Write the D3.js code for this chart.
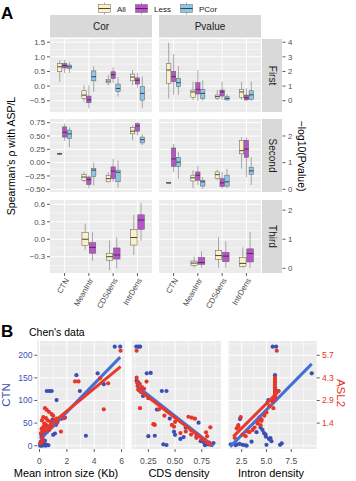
<!DOCTYPE html>
<html><head><meta charset="utf-8">
<script src="https://cdn.jsdelivr.net/npm/d3@7"></script>
<style>body{margin:0;background:#fff}svg{display:block;font-family:"Liberation Sans",Arial,sans-serif}</style>
</head><body><svg id="c" width="356" height="481"></svg>
<script>
// ================= DATA: panel A =================
const categories = ["CTN","MeanIntr","CDSdens","IntrDens"];
const groups = ["All","Less","PCor"];
const rowNames = ["First","Second","Third"];
const colNames = ["Cor","Pvalue"];
// [category, group, lowerWhisker, q1, median, q3, upperWhisker]
const corFirst = [
 ["CTN","All",0.15,0.49,0.66,0.77,0.89],["CTN","Less",0.45,0.62,0.70,0.77,0.90],["CTN","PCor",0.45,0.60,0.66,0.72,0.82],
 ["MeanIntr","All",-0.53,-0.42,-0.31,-0.16,0.03],["MeanIntr","Less",-0.76,-0.57,-0.47,-0.34,0.02],["MeanIntr","PCor",-0.19,0.18,0.32,0.52,0.68],
 ["CDSdens","All",0.03,0.11,0.17,0.23,0.38],["CDSdens","Less",0.11,0.26,0.39,0.49,0.64],["CDSdens","PCor",-0.36,-0.19,-0.08,0.07,0.30],
 ["IntrDens","All",0.03,0.18,0.31,0.41,0.55],["IntrDens","Less",-0.05,0.07,0.20,0.28,0.45],["IntrDens","PCor",-0.76,-0.48,-0.25,-0.02,0.32]
];
const pvalFirst = [
 ["CTN","All",0.16,1.19,2.10,2.55,3.96],["CTN","Less",0.40,1.30,1.65,2.00,3.20],["CTN","PCor",0.40,0.96,1.23,1.53,2.37],
 ["MeanIntr","All",0.05,0.23,0.60,0.73,1.30],["MeanIntr","Less",0.00,0.46,0.78,1.23,2.10],["MeanIntr","PCor",0.00,0.16,0.50,0.78,1.40],
 ["CDSdens","All",0.05,0.16,0.28,0.39,0.73],["CDSdens","Less",0.05,0.32,0.60,0.73,1.30],["CDSdens","PCor",0.00,0.05,0.16,0.27,0.46],
 ["IntrDens","All",0.05,0.23,0.60,0.78,1.30],["IntrDens","Less",0.00,0.05,0.20,0.39,0.85],["IntrDens","PCor",0.00,0.10,0.40,0.68,1.30]
];
const corSecond = [
 ["CTN","All",0.14,0.16,0.165,0.17,0.19],["CTN","Less",0.41,0.48,0.57,0.67,0.73],["CTN","PCor",0.29,0.45,0.54,0.61,0.66],
 ["MeanIntr","All",-0.37,-0.33,-0.27,-0.22,-0.18],["MeanIntr","Less",-0.48,-0.41,-0.32,-0.27,-0.24],["MeanIntr","PCor",-0.43,-0.26,-0.14,-0.11,0.0],
 ["CDSdens","All",-0.37,-0.36,-0.30,-0.24,-0.18],["CDSdens","Less",-0.36,-0.30,-0.16,-0.08,0.07],["CDSdens","PCor",-0.47,-0.36,-0.18,-0.14,0.04],
 ["IntrDens","All",0.42,0.54,0.59,0.66,0.70],["IntrDens","Less",0.51,0.59,0.69,0.73,0.76],["IntrDens","PCor",0.33,0.37,0.43,0.48,0.53]
];
const pvalSecond = [
 ["CTN","All",0.22,0.23,0.24,0.25,0.26],["CTN","Less",0.65,0.86,1.14,1.55,1.70],["CTN","PCor",0.40,0.86,1.02,1.20,1.39],
 ["MeanIntr","All",0.04,0.31,0.43,0.53,0.71],["MeanIntr","Less",0.16,0.34,0.53,0.65,0.89],["MeanIntr","PCor",0.02,0.12,0.28,0.34,0.46],
 ["CDSdens","All",0.34,0.40,0.55,0.65,0.74],["CDSdens","Less",0.02,0.10,0.24,0.40,0.65],["CDSdens","PCor",0.04,0.12,0.28,0.53,0.77],
 ["IntrDens","All",0.77,1.33,1.45,1.84,1.96],["IntrDens","Less",0.46,1.20,1.51,1.84,1.94],["IntrDens","PCor",0.16,0.56,0.69,0.83,1.20]
];
const corThird = [
 ["MeanIntr","All",-0.18,-0.11,0.0,0.12,0.27],["MeanIntr","Less",-0.37,-0.24,-0.14,-0.06,0.12],
 ["CDSdens","All",-0.53,-0.36,-0.30,-0.24,-0.02],["CDSdens","Less",-0.50,-0.34,-0.27,-0.15,0.03],
 ["IntrDens","All",-0.27,-0.10,0.03,0.17,0.42],["IntrDens","Less",-0.02,0.17,0.33,0.42,0.62]
];
const pvalThird = [
 ["MeanIntr","All",0.03,0.09,0.18,0.25,0.40],["MeanIntr","Less",0.03,0.14,0.20,0.37,0.59],
 ["CDSdens","All",0.03,0.31,0.44,0.61,1.07],["CDSdens","Less",0.03,0.23,0.42,0.55,0.92],
 ["IntrDens","All",0.03,0.07,0.17,0.37,0.72],["IntrDens","Less",0.02,0.22,0.51,0.67,1.25]
];
const corTickFirst = [-0.5,0,0.5,1,1.5];
const corTickSecond = [-0.5,-0.25,0,0.25,0.5,0.75];
const corTickThird = [-0.3,0,0.3,0.6];
const pTickFirst = [0,1,2,3,4];
const pTickSecond = [0,1,2];
const pTickThird = [0,1,2];

// ================= DATA: panel B =================
// [x, CTN] blue ; [x, ASL2] red
const sizeCTN = [[5.5,219],[5.9,219],[2.7,156],[2.95,121],[4.25,160],[4.7,136],[0.53,121],[0.72,121],[0.89,121],[1.25,101],[1.74,61],[1.62,60],[1.86,62],[3.39,22],[1.0,24],[1.13,27],[0.08,2],[0.18,0],[0.28,1],[0.35,4],[0.45,0],[0.55,2],[0.65,1],[0.15,21],[0.22,16],[0.1,9],[0.4,11],[0.55,31],[0.75,40],[0.85,52],[1.2,46],[0.3,26],[0.95,57],[1.45,59],[0.25,6],[0.05,0]];
const sizeASL2 = [[5.93,6.0],[2.6,4.06],[2.85,4.06],[4.42,4.26],[5.02,3.94],[4.7,2.3],[0.4,2.37],[0.28,1.8],[0.47,1.74],[0.89,2.0],[1.57,0.89],[0.53,2.26],[0.69,2.14],[1.0,1.89],[1.25,1.71],[0.1,0.77],[0.15,1.06],[0.3,1.2],[0.2,0.5],[0.35,1.4],[0.5,1.3],[0.6,1.6],[0.8,1.5],[1.1,1.6],[0.25,0.3],[0.12,0.2],[0.4,0.9],[0.7,1.0],[1.3,1.45],[0.9,1.2],[1.8,1.75],[0.05,0.15],[0.18,1.6]];
const cdsCTN = [[0.137,219],[0.157,219],[0.173,219],[0.235,160],[0.272,161],[0.14,144],[0.155,140],[0.376,121],[0.42,121],[0.72,51],[0.25,21],[0.31,22],[0.39,3],[0.42,1.5],[0.49,31],[0.5,24],[0.55,15],[0.58,19],[0.74,10],[0.77,7],[0.81,3],[0.86,6],[0.6,40],[0.65,35],[0.7,20],[0.45,60],[0.33,80],[0.2,110],[0.84,2],[0.78,1]];
const cdsASL2 = [[0.14,6.0],[0.145,4.0],[0.17,3.9],[0.19,3.7],[0.233,4.05],[0.14,4.3],[0.15,3.8],[0.16,3.5],[0.18,3.4],[0.21,3.6],[0.172,2.37],[0.297,1.35],[0.31,1.31],[0.47,1.31],[0.49,1.2],[0.625,1.83],[0.656,1.77],[0.686,1.71],[0.83,1.16],[0.3,1.37],[0.78,0.35],[0.8,0.6],[0.79,0.85],[0.75,0.4],[0.7,0.5],[0.6,0.9],[0.55,0.8],[0.4,1.9],[0.35,2.3],[0.25,3.0],[0.5,1.5],[0.65,0.7],[0.82,0.2]];
const densCTN = [[5.63,219],[5.98,219],[5.86,156],[5.86,121],[6.2,121],[5.95,121],[6.05,121],[9.57,160],[5.19,101],[5.53,101],[2.33,59],[4.28,62],[1.4,3],[1.9,1],[2.3,4],[2.6,2],[2.85,1],[3.5,9],[4.4,40],[4.6,35],[4.75,28],[4.9,25],[4.95,20],[5.25,15],[5.4,17],[5.5,10],[5.0,2],[6.37,2],[6.54,5],[3.0,0],[4.0,30],[5.1,95],[2.0,3]];
const densASL2 = [[6.04,6.0],[5.86,4.3],[5.86,4.15],[5.86,4.0],[5.86,3.85],[5.86,3.7],[5.86,3.55],[5.86,3.4],[5.86,3.25],[5.86,3.1],[5.86,3.0],[5.7,2.37],[2.4,1.8],[2.16,1.3],[2.0,1.1],[2.16,1.2],[3.3,0.86],[3.6,1.0],[3.8,1.15],[4.1,1.4],[4.5,1.66],[4.5,1.57],[4.4,1.3],[4.2,1.6],[5.0,2.1],[5.3,2.5],[5.6,2.8],[1.8,0.5],[2.6,0.7],[2.9,0.6],[4.8,1.9],[3.1,0.9],[5.75,2.9]];
// fitted lines: [x0, y0, x1, y1]
const sizeFitCTN = [0.05,14,5.9,196], sizeFitASL2 = [0.05,0.8,5.93,5.0];
const cdsFitCTN = [0.137,133,0.86,-1], cdsFitASL2 = [0.14,3.63,0.84,0.0];
const densFitCTN = [1.35,-2,9.57,181], densFitASL2 = [1.65,0.57,6.37,3.52];
const ctnTicks = [0,50,100,150,200];
const asl2Ticks = [50,100,150,200]; // positions in CTN units, labelled as ASL2
const ASL2_FACTOR = 35;

// ================= DRAW =================
const svg = d3.select("#c");
const fillCol = {All:"#FCF0C6", Less:"#B953C9", PCor:"#8EC6EA"};
const tickCol = "#4d4d4d", grid = "#ffffff", bg = "#EBEBEB", strip = "#D9D9D9";

// Panel labels
svg.append("text").attr("x",1).attr("y",18.5).attr("font-size",17).attr("font-weight","bold").text("A");
svg.append("text").attr("x",1).attr("y",337).attr("font-size",17).attr("font-weight","bold").text("B");

// Legend
[["All",98],["Less",135],["PCor",180]].forEach(([g,x])=>{
  const lg = svg.append("g");
  lg.append("line").attr("x1",x+6.5).attr("x2",x+6.5).attr("y1",2.5).attr("y2",14.5).attr("stroke","#777").attr("stroke-width",0.6);
  lg.append("rect").attr("x",x+0.5).attr("y",4.5).attr("width",12).attr("height",8).attr("fill",fillCol[g]).attr("stroke","#666").attr("stroke-width",0.5);
  lg.append("line").attr("x1",x+0.5).attr("x2",x+12.5).attr("y1",8.5).attr("y2",8.5).attr("stroke","#333").attr("stroke-width",0.9);
  lg.append("text").attr("x",x+19).attr("y",11.5).attr("font-size",8).attr("fill","#1a1a1a").text(g);
});

const colRange = {Cor:[50,152], Pvalue:[159,261]};
const rowRange = {First:[39,112], Second:[119,192], Third:[200,273]};
const rowLimits = {First:[-0.886,1.61], Second:[-0.551,0.819], Third:[-0.58,0.674]};
const rowData = {First:{Cor:corFirst,Pvalue:pvalFirst}, Second:{Cor:corSecond,Pvalue:pvalSecond}, Third:{Cor:corThird,Pvalue:pvalThird}};
const leftTicks = {First:corTickFirst, Second:corTickSecond, Third:corTickThird};
const leftFmt = {First:d3.format(".1f"), Second:d3.format(".2f"), Third:d3.format(".1f")};
const rightTicks = {First:pTickFirst, Second:pTickSecond, Third:pTickThird};
const toPrimary = p => (p-1)/2;
const minus = s => s.replace("-","\u2212");

function minors(ticks, dom){
  const out=[]; const st = ticks[1]-ticks[0];
  for(let i=-1;i<ticks.length;i++){ const m = ticks[0]+st*(i+0.5); if(m>dom[0]&&m<dom[1]) out.push(m);} return out;
}

// top strips
colNames.forEach(c=>{
  const [x0,x1]=colRange[c];
  svg.append("rect").attr("x",x0).attr("y",15).attr("width",x1-x0).attr("height",22.5).attr("fill",strip);
  svg.append("text").attr("x",(x0+x1)/2).attr("y",30).attr("text-anchor","middle").attr("font-size",10).attr("fill","#1a1a1a").text(c);
});

rowNames.forEach(r=>{
  const [y0,y1]=rowRange[r];
  const y = d3.scaleLinear().domain(rowLimits[r]).range([y1,y0]);
  const present = groups.filter(g=>rowData[r].Cor.some(d=>d[1]===g));
  colNames.forEach(c=>{
    const [x0,x1]=colRange[c];
    const x = d3.scalePoint().domain(categories).range([x0,x1]).padding(0.6);
    const g = svg.append("g");
    g.append("rect").attr("x",x0).attr("y",y0).attr("width",x1-x0).attr("height",y1-y0).attr("fill",bg);
    minors(leftTicks[r], rowLimits[r]).forEach(v=>g.append("line").attr("x1",x0).attr("x2",x1).attr("y1",y(v)).attr("y2",y(v)).attr("stroke",grid).attr("stroke-width",0.5));
    leftTicks[r].forEach(v=>g.append("line").attr("x1",x0).attr("x2",x1).attr("y1",y(v)).attr("y2",y(v)).attr("stroke",grid).attr("stroke-width",1));
    categories.forEach(k=>g.append("line").attr("x1",x(k)).attr("x2",x(k)).attr("y1",y0).attr("y2",y1).attr("stroke",grid).attr("stroke-width",1));
    const t = c==="Pvalue" ? toPrimary : (v=>v);
    const slot = 0.6*x.step()/present.length;
    rowData[r][c].forEach(d=>{
      const [cat,grp,lo,q1,med,q3,hi] = d;
      const i = present.indexOf(grp);
      const cx = x(cat) + (i-(present.length-1)/2)*slot;
      const bw = slot*0.9;
      g.append("line").attr("x1",cx).attr("x2",cx).attr("y1",y(t(hi))).attr("y2",y(t(lo))).attr("stroke","#777").attr("stroke-width",0.6);
      g.append("rect").attr("x",cx-bw/2).attr("y",y(t(q3))).attr("width",bw).attr("height",Math.max(0.6,y(t(q1))-y(t(q3))))
        .attr("fill",fillCol[grp]).attr("stroke","#5a5a5a").attr("stroke-width",0.5);
      g.append("line").attr("x1",cx-bw/2).attr("x2",cx+bw/2).attr("y1",y(t(med))).attr("y2",y(t(med))).attr("stroke","#333").attr("stroke-width",0.9);
    });
    if(r==="Third"){
      categories.forEach(k=>{
        svg.append("line").attr("x1",x(k)).attr("x2",x(k)).attr("y1",y1).attr("y2",y1+3).attr("stroke","#333").attr("stroke-width",0.8);
        svg.append("text").attr("transform",`translate(${x(k)+1},${y1+5}) rotate(-60)`).attr("text-anchor","end").attr("dy","0.55em")
          .attr("font-size",7.8).attr("fill",tickCol).text(k);
      });
    }
  });
  // left axis
  leftTicks[r].forEach(v=>{
    svg.append("line").attr("x1",47).attr("x2",50).attr("y1",y(v)).attr("y2",y(v)).attr("stroke","#333").attr("stroke-width",0.8);
    svg.append("text").attr("x",45).attr("y",y(v)).attr("dy","0.35em").attr("text-anchor","end").attr("font-size",7.8).attr("fill",tickCol).text(minus(leftFmt[r](v)));
  });
  // right strip
  svg.append("rect").attr("x",262).attr("y",y0).attr("width",20).attr("height",y1-y0).attr("fill",strip);
  svg.append("text").attr("transform",`translate(272,${(y0+y1)/2}) rotate(90)`).attr("text-anchor","middle").attr("dy","0.35em")
    .attr("font-size",10).attr("fill","#1a1a1a").text(r);
  // right axis
  rightTicks[r].forEach(p=>{
    const yy = y(toPrimary(p));
    svg.append("line").attr("x1",282.5).attr("x2",285.5).attr("y1",yy).attr("y2",yy).attr("stroke","#333").attr("stroke-width",0.8);
    svg.append("text").attr("x",288).attr("y",yy).attr("dy","0.35em").attr("font-size",7.8).attr("fill",tickCol).text(p);
  });
});
svg.append("text").attr("transform","translate(15,156) rotate(-90)").attr("text-anchor","middle").attr("font-size",10.5).attr("fill","#000").text("Spearman's \u03C1 with ASP/L");
svg.append("text").attr("transform","translate(298,156) rotate(90)").attr("text-anchor","middle").attr("font-size",10.5).attr("fill","#000").text("\u2212log10(Pvalue)");

// ================= panel B =================
svg.append("text").attr("x",29).attr("y",336).attr("font-size",10.5).attr("fill","#000").text("Chen's data");
const blue = "#3A50B5", red = "#E6352A", blueLine = "#4470D6", redLine = "#E8392D";
const By = d3.scaleLinear().domain([-7.3,231.6]).range([449,341]);
const panelsB = [
  {x:[37.3,125], dom:[-0.16,6.25], ticks:[0,2,4,6], fmt:d3.format("d"), ctn:sizeCTN, asl:sizeASL2, fc:sizeFitCTN, fa:sizeFitASL2, title:"Mean intron size (Kb)", tx:66},
  {x:[131.7,221], dom:[0.094,0.93], ticks:[0.25,0.5,0.75], fmt:d3.format(".2f"), ctn:cdsCTN, asl:cdsASL2, fc:cdsFitCTN, fa:cdsFitASL2, title:"CDS density", tx:179},
  {x:[228.3,316.7], dom:[1.15,10.07], ticks:[2.5,5,7.5], fmt:d3.format(".1f"), ctn:densCTN, asl:densASL2, fc:densFitCTN, fa:densFitASL2, title:"Intron density", tx:271}
];
panelsB.forEach(P=>{
  const x = d3.scaleLinear().domain(P.dom).range(P.x);
  const g = svg.append("g");
  g.append("rect").attr("x",P.x[0]).attr("y",341).attr("width",P.x[1]-P.x[0]).attr("height",108).attr("fill",bg);
  minors(P.ticks,P.dom).forEach(v=>g.append("line").attr("x1",x(v)).attr("x2",x(v)).attr("y1",341).attr("y2",449).attr("stroke",grid).attr("stroke-width",0.5));
  minors(ctnTicks,By.domain()).forEach(v=>g.append("line").attr("x1",P.x[0]).attr("x2",P.x[1]).attr("y1",By(v)).attr("y2",By(v)).attr("stroke",grid).attr("stroke-width",0.5));
  P.ticks.forEach(v=>g.append("line").attr("x1",x(v)).attr("x2",x(v)).attr("y1",341).attr("y2",449).attr("stroke",grid).attr("stroke-width",1));
  ctnTicks.forEach(v=>g.append("line").attr("x1",P.x[0]).attr("x2",P.x[1]).attr("y1",By(v)).attr("y2",By(v)).attr("stroke",grid).attr("stroke-width",1));
  g.selectAll(null).data(P.ctn).enter().append("circle").attr("cx",d=>x(d[0])).attr("cy",d=>By(d[1])).attr("r",2.1).attr("fill",blue);
  g.append("line").attr("x1",x(P.fc[0])).attr("y1",By(P.fc[1])).attr("x2",x(P.fc[2])).attr("y2",By(P.fc[3])).attr("stroke",blueLine).attr("stroke-width",3);
  g.selectAll(null).data(P.asl).enter().append("circle").attr("cx",d=>x(d[0])).attr("cy",d=>By(d[1]*ASL2_FACTOR)).attr("r",2.1).attr("fill",red);
  g.append("line").attr("x1",x(P.fa[0])).attr("y1",By(P.fa[1]*ASL2_FACTOR)).attr("x2",x(P.fa[2])).attr("y2",By(P.fa[3]*ASL2_FACTOR)).attr("stroke",redLine).attr("stroke-width",3);
  P.ticks.forEach(v=>{
    svg.append("line").attr("x1",x(v)).attr("x2",x(v)).attr("y1",449).attr("y2",452).attr("stroke","#333").attr("stroke-width",0.8);
    svg.append("text").attr("x",x(v)).attr("y",464).attr("text-anchor","middle").attr("font-size",8.5).attr("fill",tickCol).text(P.fmt(v));
  });
  svg.append("text").attr("x",P.tx).attr("y",477).attr("text-anchor","middle").attr("font-size",11).attr("fill","#000").text(P.title);
});
ctnTicks.forEach(v=>{
  svg.append("line").attr("x1",34.3).attr("x2",37.3).attr("y1",By(v)).attr("y2",By(v)).attr("stroke","#333").attr("stroke-width",0.8);
  svg.append("text").attr("x",32.5).attr("y",By(v)).attr("dy","0.35em").attr("text-anchor","end").attr("font-size",8.5).attr("fill",blue).text(v);
});
asl2Ticks.forEach(v=>{
  svg.append("line").attr("x1",316.7).attr("x2",319.7).attr("y1",By(v)).attr("y2",By(v)).attr("stroke","#333").attr("stroke-width",0.8);
  svg.append("text").attr("x",322).attr("y",By(v)).attr("dy","0.35em").attr("font-size",8.5).attr("fill",red).text(d3.format(".1f")(v/ASL2_FACTOR));
});
svg.append("text").attr("transform","translate(10,395) rotate(-90)").attr("text-anchor","middle").attr("font-size",11.5).attr("fill",blue).text("CTN");
svg.append("text").attr("transform","translate(337,393) rotate(90)").attr("text-anchor","middle").attr("font-size",11.5).attr("fill",red).text("ASL2");
</script></body></html>
